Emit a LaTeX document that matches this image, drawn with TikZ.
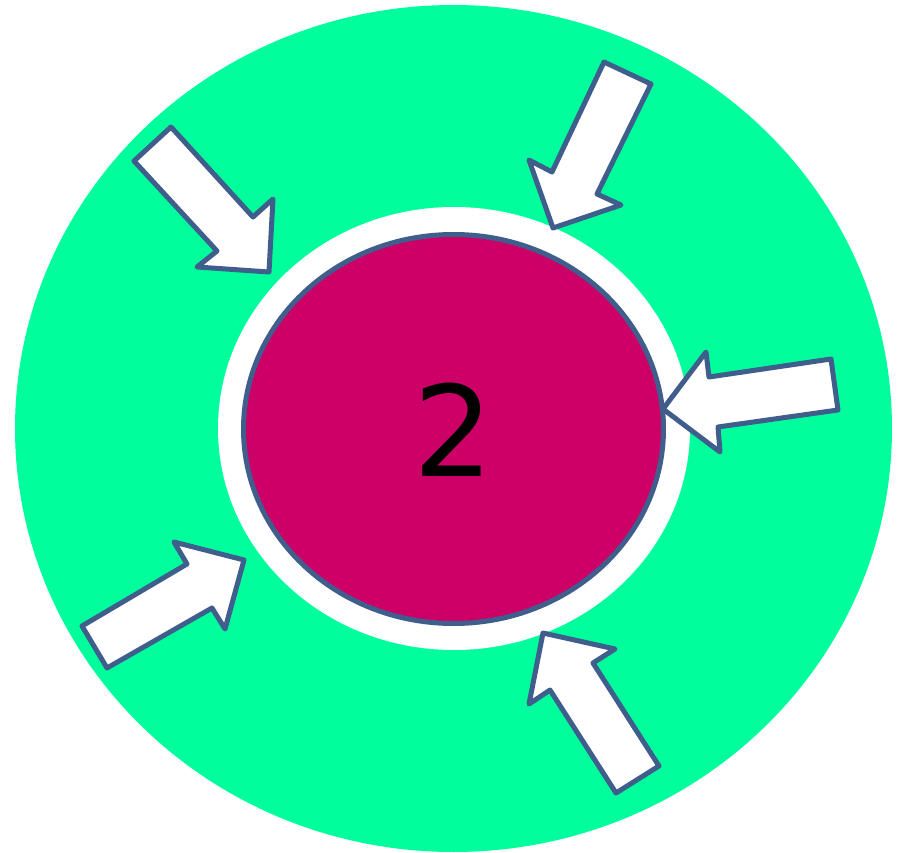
\documentclass[tikz,border=0pt]{standalone}
\usepackage{fontspec}
\newfontfamily\digitfont{DejaVu Sans}
\definecolor{ringgreen}{RGB}{0,255,156}
\definecolor{coremag}{RGB}{204,0,102}
\definecolor{edgeblue}{RGB}{63,94,140}
\tikzset{
  blockarrow/.style={fill=white, draw=edgeblue, line width=5pt, line join=round},
}
\begin{document}
\begin{tikzpicture}[x=1pt,y=-1pt]
\useasboundingbox (0,0) rectangle (903,853);
\fill[ringgreen] (453.5,428.5) ellipse [x radius=438.5pt, y radius=423.5pt];
\fill[white] (454,428.5) ellipse [x radius=236pt, y radius=221.5pt];
\draw[fill=coremag, draw=edgeblue, line width=5pt] (453.5,429) ellipse [x radius=210pt, y radius=194.5pt];
\node[inner sep=0pt, font=\digitfont\fontsize{126}{126}\selectfont] (num) at (454,430) {2};
% arrows
\draw[blockarrow] (171,127) -- (253,217) -- (273,199) -- (269,272) -- (197,267) -- (217,251) -- (134,161) -- cycle;
\draw[blockarrow] (604,62) -- (651,84) -- (597,194) -- (621,205) -- (553,228) -- (529,160) -- (552,172) -- cycle;
\draw[blockarrow] (831,359) -- (838,410) -- (718,427) -- (720,452) -- (663,409) -- (706,352) -- (709,377) -- cycle;
\draw[blockarrow] (82,626) -- (107,668) -- (212,608) -- (225,629) -- (244,560) -- (174,542) -- (187,564) -- cycle;
\draw[blockarrow] (659,766) -- (616,793) -- (550,690) -- (529,704) -- (543,633) -- (615,649) -- (593,663) -- cycle;
\end{tikzpicture}
\end{document}
